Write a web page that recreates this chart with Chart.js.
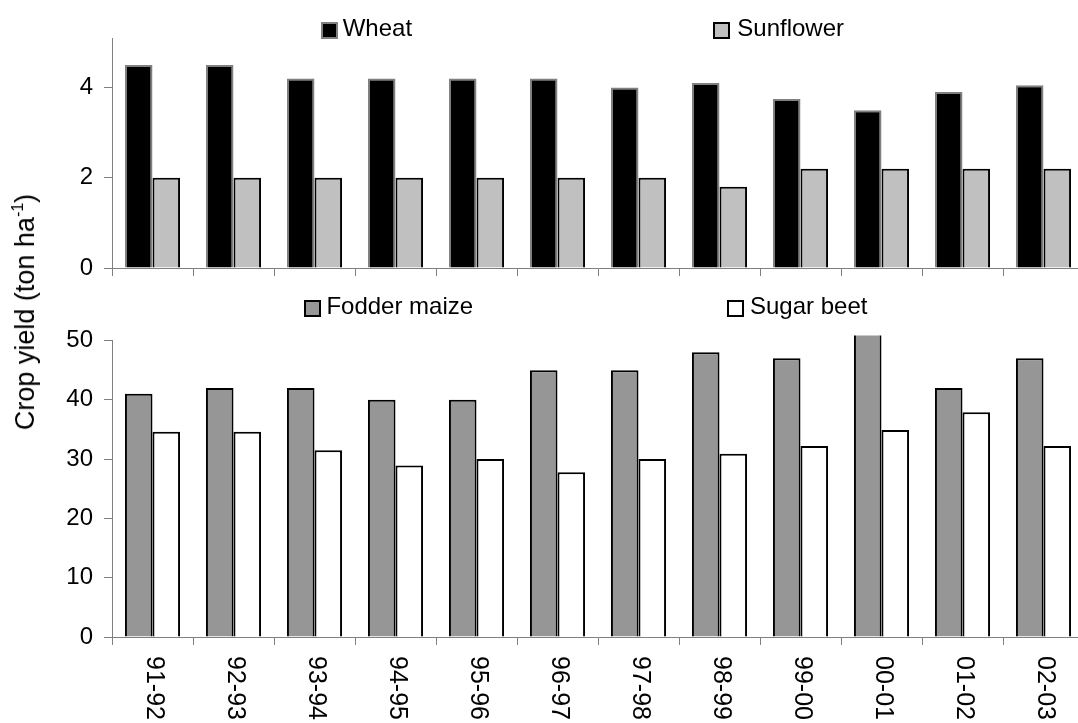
<!DOCTYPE html>
<html>
<head>
<meta charset="utf-8">
<script src="https://cdn.jsdelivr.net/npm/chart.js@4/dist/chart.umd.min.js"></script>
<style>
  html, body { margin: 0; padding: 0; background: #fff; overflow: hidden; }
  #page { position: relative; width: 1078px; height: 723px; overflow: hidden;
          font-family: "Liberation Sans", Arial, sans-serif; color: #000; }
  canvas { position: absolute; left: 0; }
  #upper { top: 0; }
  #lower { top: 290px; }
  .key { position: absolute; box-sizing: border-box; width: 17px; height: 17px; border: 2px solid #000; }
  .key-text { position: absolute; font-size: 24px; line-height: 24px; white-space: nowrap; }
  #ytitle { position: absolute; left: 26.5px; top: 312px; font-size: 27px; line-height: 27px;
            white-space: nowrap; transform: translate(-50%, -50%) rotate(-90deg); }
  #ytitle span { font-size: 16px; position: relative; top: -11px; }
</style>
</head>
<body>
<div id="page">
  <canvas id="upper" width="1084" height="294"></canvas>
  <canvas id="lower" width="1084" height="433"></canvas>
  <div id="ytitle">Crop yield (ton ha<span>-1</span>)</div>
</div>
<script>
// Growing seasons on the shared category axis
const seasons = ['91-92', '92-93', '93-94', '94-95', '95-96', '96-97',
                 '97-98', '98-99', '99-00', '00-01', '01-02', '02-03'];

// Cereal and oil crop yields (ton/ha)
const wheat     = [4.5, 4.5, 4.2, 4.2, 4.2, 4.2, 4.0, 4.1, 3.75, 3.5, 3.9, 4.05];
const sunflower = [2.0, 2.0, 2.0, 2.0, 2.0, 2.0, 2.0, 1.8, 2.2, 2.2, 2.2, 2.2];

// Forage and root crop yields (ton/ha)
const fodderMaize = [41, 42, 42, 40, 40, 45, 45, 48, 47, 52, 42, 47];
const sugarBeet   = [34.6, 34.6, 31.5, 28.9, 30.0, 27.8, 30.0, 30.9, 32.2, 34.9, 37.9, 32.2];

// Value-axis tick labels of the two panels
const upperTicks = [0, 2, 4];
const lowerTicks = [0, 10, 20, 30, 40, 50];

// Series names shown in the keys
const upperNames = ['Wheat', 'Sunflower'];
const lowerNames = ['Fodder maize', 'Sugar beet'];

const FONT = '"Liberation Sans", Arial, sans-serif';
const AXIS_GREY = '#808080';
Chart.defaults.font.family = FONT;
Chart.defaults.color = '#000';

const styles = {
  'Wheat':        { fill: '#000000', edge: '#808080' },
  'Sunflower':    { fill: '#c0c0c0', edge: '#000000' },
  'Fodder maize': { fill: '#969696', edge: '#000000' },
  'Sugar beet':   { fill: '#ffffff', edge: '#000000' }
};

function barSet(name, values) {
  return {
    label: name,
    data: values,
    backgroundColor: styles[name].fill,
    borderColor: styles[name].edge,
    borderWidth: 2,
    categoryPercentage: 0.68,
    barPercentage: 1.0,
    clip: { left: 5, top: 5, right: 5, bottom: 5 }
  };
}

function valueAxis(max, tickList) {
  return {
    min: 0,
    max: max,
    afterBuildTicks: (scale) => { scale.ticks = tickList.map(v => ({ value: v })); },
    afterFit: (scale) => { scale.width = 112; },
    border: { display: true, color: AXIS_GREY, width: 1 },
    grid: { drawOnChartArea: false, drawTicks: true, tickLength: 8, color: AXIS_GREY },
    ticks: { font: { size: 24 }, color: '#000', padding: 11 }
  };
}

function categoryAxis(height) {
  return {
    type: 'category',
    offset: true,
    afterFit: (scale) => { scale.height = height; },
    border: { display: true, color: AXIS_GREY, width: 1 },
    grid: { offset: true, drawOnChartArea: false, drawTicks: true, tickLength: 8, color: AXIS_GREY },
    ticks: { display: false }
  };
}

// Season names under the lower panel, turned to read downwards
const seasonLabels = {
  id: 'seasonLabels',
  afterDraw(chart) {
    const x = chart.scales.x;
    const ctx = chart.ctx;
    ctx.save();
    ctx.font = '25px ' + FONT;
    ctx.fillStyle = '#000';
    ctx.textAlign = 'left';
    ctx.textBaseline = 'middle';
    seasons.forEach((s, i) => {
      ctx.save();
      ctx.translate(x.getPixelForValue(i) + 1, x.top + 19);
      ctx.rotate(Math.PI / 2);
      ctx.fillText(s, 0, 0);
      ctx.restore();
    });
    ctx.restore();
  }
};

const common = {
  responsive: false,
  animation: false,
  events: [],
  plugins: { legend: { display: false }, tooltip: { enabled: false } }
};

new Chart(document.getElementById('upper'), {
  type: 'bar',
  data: {
    labels: seasons,
    datasets: [barSet(upperNames[0], wheat), barSet(upperNames[1], sunflower)]
  },
  options: Object.assign({}, common, {
    layout: { padding: { top: 38, left: 0, right: 0, bottom: 0 } },
    scales: { x: categoryAxis(26), y: valueAxis(5.1, upperTicks) }
  })
});

new Chart(document.getElementById('lower'), {
  type: 'bar',
  data: {
    labels: seasons,
    datasets: [barSet(lowerNames[0], fodderMaize), barSet(lowerNames[1], sugarBeet)]
  },
  options: Object.assign({}, common, {
    layout: { padding: { top: 50.5, left: 0, right: 0, bottom: 0 } },
    scales: { x: categoryAxis(86), y: valueAxis(50, lowerTicks) }
  }),
  plugins: [seasonLabels]
});

// Series keys
const keySpots = [
  { name: upperNames[0], box: [320.5, 21.7], text: [342.7, 16.2] },
  { name: upperNames[1], box: [713.3, 21.7], text: [737.3, 16.2] },
  { name: lowerNames[0], box: [303.7, 300.0], text: [326.4, 293.6] },
  { name: lowerNames[1], box: [727.0, 300.0], text: [750.0, 294.2] }
];
const page = document.getElementById('page');
keySpots.forEach(k => {
  const b = document.createElement('div');
  b.className = 'key';
  b.style.left = k.box[0] + 'px';
  b.style.top = k.box[1] + 'px';
  b.style.background = styles[k.name].fill;
  b.style.borderColor = styles[k.name].edge;
  page.appendChild(b);
  const t = document.createElement('div');
  t.className = 'key-text';
  t.style.left = k.text[0] + 'px';
  t.style.top = k.text[1] + 'px';
  t.textContent = k.name;
  page.appendChild(t);
});
</script>
</body>
</html>
